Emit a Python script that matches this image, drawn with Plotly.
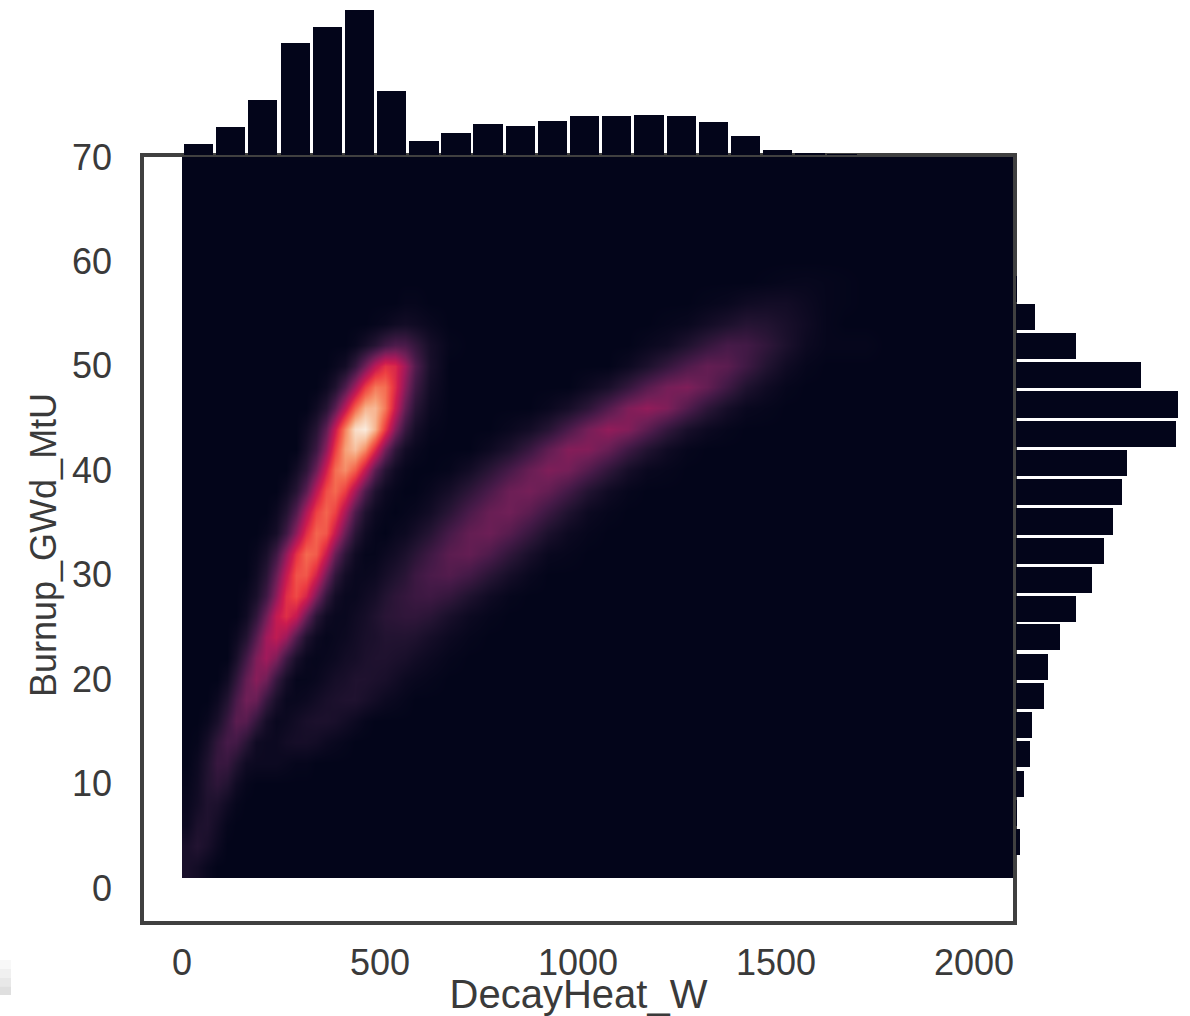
import plotly.graph_objects as go

W, H = 1190, 1016
INK = "#03051a"
FRAME = "#404040"
TEXT = "#3a3a3a"
FONT = "Liberation Sans"

# Top marginal histogram (DecayHeat_W)
top_bins = [42, 123, 204, 286, 367, 448, 529, 611, 692, 773, 854, 936, 1017, 1098,
            1179, 1261, 1342, 1423, 1504, 1586, 1667]
top_counts = [11, 28, 55, 112, 128, 145, 64, 14, 22, 31, 29, 34, 39, 39, 40, 39, 33, 19, 5, 1.5, 0.5]

# Right marginal histogram (Burnup_GWd_MtU)
right_bins = [4.4, 7.2, 10.0, 12.8, 15.6, 18.4, 21.2, 24.0, 26.7, 29.5, 32.3, 35.1,
              37.9, 40.7, 43.5, 46.3, 49.1, 51.9, 54.7, 57.4]
right_counts = [4, 1, 8, 14, 16, 28, 32, 44, 60, 76, 88, 97, 106, 111, 160, 162, 125, 60, 19, 1]

# Density grid, in percent of the peak.
density_x = [12.5, 37.5, 62.5, 87.5, 112.5, 137.5, 162.5, 187.5, 212.5, 237.5, 262.5, 287.5,
             312.5, 337.5, 362.5, 387.5, 412.5, 437.5, 462.5, 487.5, 512.5, 537.5, 562.5, 587.5,
             625, 675, 725, 775, 825, 875, 925, 975, 1025, 1075, 1125, 1175, 1225, 1275, 1325,
             1375, 1425, 1475, 1525, 1575, 1625, 1675, 1725, 1775, 1825, 1875, 1925, 1975, 2025, 2075]
density_y = [2, 4, 6, 8, 10, 12, 14, 16, 18, 20, 22, 24, 26, 28, 30, 32, 34, 36, 38, 40, 42, 44,
             46, 48, 50, 52, 54, 56, 58, 60, 62, 64, 66, 68, 70]
# One row per burnup level: (index of first listed column, values)
density_rows = [
    (0, [7, 5, 2]),
    (0, [7, 10, 7, 3]),
    (0, [3, 8, 9, 5, 1]),
    (0, [2, 5, 9, 8, 4, 1]),
    (0, [1, 4, 10, 13, 10, 4, 1]),
    (1, [3, 9, 16, 16, 10, 4, 3, 3, 3, 2, 1, 1]),
    (1, [1, 6, 14, 20, 19, 12, 4, 3, 3, 5, 6, 6, 5, 3, 2, 1]),
    (2, [2, 7, 16, 25, 24, 15, 6, 2, 3, 5, 7, 8, 8, 7, 5, 3, 1]),
    (3, [3, 10, 21, 30, 28, 16, 7, 2, 2, 3, 5, 7, 8, 9, 9, 7, 5, 3, 2, 1]),
    (4, [4, 14, 27, 35, 30, 16, 6, 1, 1, 2, 4, 6, 7, 9, 9, 8, 7, 5, 3, 2, 1]),
    (5, [7, 19, 33, 40, 33, 18, 7, 2, 1, 2, 3, 5, 6, 8, 9, 9, 8, 7, 5, 3, 1]),
    (5, [3, 10, 24, 40, 47, 39, 23, 9, 3, 1, 2, 3, 5, 7, 8, 10, 10, 10, 9, 6, 3, 1]),
    (6, [4, 14, 30, 48, 56, 48, 29, 12, 4, 2, 2, 4, 6, 9, 12, 13, 14, 14, 12, 7, 3, 1]),
    (6, [2, 7, 18, 36, 56, 63, 53, 33, 15, 5, 2, 2, 4, 6, 10, 13, 15, 17, 18, 15, 9, 4, 1]),
    (7, [4, 12, 28, 48, 65, 66, 52, 31, 14, 5, 2, 2, 3, 6, 9, 12, 17, 21, 23, 19, 12, 6, 2]),
    (7, [2, 7, 18, 37, 57, 70, 67, 49, 28, 13, 4, 1, 1, 3, 5, 8, 12, 18, 25, 27, 22, 14, 7, 2, 1]),
    (8, [2, 6, 18, 36, 56, 69, 66, 48, 28, 12, 4, 1, 0, 2, 3, 6, 11, 20, 27, 29, 24, 16, 8, 3, 1]),
    (9, [3, 10, 23, 43, 61, 69, 61, 42, 22, 9, 3, 1, 0, 1, 2, 5, 12, 21, 28, 30, 25, 17, 9, 3, 1]),
    (10, [4, 11, 25, 46, 64, 70, 60, 41, 22, 9, 3, 1, 0, 0, 2, 6, 13, 21, 29, 31, 27, 19, 10, 4, 1]),
    (11, [5, 13, 29, 51, 71, 77, 67, 47, 25, 11, 4, 1, 0, 0, 1, 5, 12, 20, 28, 33, 31, 23, 14, 6, 2, 1]),
    (12, [7, 17, 36, 60, 81, 88, 77, 55, 31, 14, 5, 2, 0, 0, 0, 3, 8, 16, 26, 34, 34, 28, 18, 10, 4, 1]),
    (12, [4, 11, 26, 49, 75, 96, 100, 85, 59, 34, 16, 6, 1, 0, 0, 0, 2, 5, 11, 21, 31, 37, 34, 25, 15, 7, 3, 1]),
    (13, [4, 11, 25, 46, 69, 85, 86, 73, 49, 27, 12, 3, 0, 0, 0, 0, 0, 2, 6, 13, 23, 33, 37, 33, 23, 13, 6, 2, 1]),
    (14, [3, 9, 22, 40, 60, 73, 71, 55, 35, 18, 5, 0, 0, 0, 0, 0, 0, 0, 3, 7, 15, 24, 31, 33, 27, 18, 9, 4, 1]),
    (15, [2, 5, 15, 30, 46, 57, 54, 40, 23, 7, 0, 0, 0, 0, 0, 0, 0, 0, 0, 3, 8, 15, 22, 27, 25, 18, 10, 4, 1]),
    (17, [2, 6, 11, 18, 22, 21, 15, 6, 1, 0, 0, 0, 0, 0, 0, 0, 0, 0, 2, 4, 9, 15, 20, 19, 14, 8, 3, 1, 1, 1]),
    (19, [1, 2, 4, 5, 4, 2, 0, 0, 0, 0, 0, 0, 0, 0, 0, 0, 0, 1, 2, 5, 8, 11, 10, 7, 4, 1]),
    (22, [1, 1, 0, 0, 0, 0, 0, 0, 0, 0, 0, 0, 0, 0, 0, 0, 1, 2, 4, 5, 5, 3, 1, 0.5]),
    (41, [0.5, 1.2, 1.5, 1, 0.5]),
]

x_tick_values = [0, 500, 1000, 1500, 2000]
y_tick_values = [0, 10, 20, 30, 40, 50, 60, 70]

# seaborn "rocket"
rocket = [
    [0.0, "#03051a"], [0.1, "#221331"], [0.2, "#461a48"], [0.3, "#701f57"],
    [0.4, "#a11a5b"], [0.5, "#cb1b4f"], [0.6, "#ec3c42"], [0.7, "#f4694f"],
    [0.8, "#f69c73"], [0.9, "#f7c9aa"], [1.0, "#faebdd"],
]

n_cols = len(density_x)
z = []
for start, values in density_rows:
    z.append([0] * start + values + [0] * (n_cols - start - len(values)))
while len(z) < len(density_y):
    z.append([0] * n_cols)

fig = go.Figure()
fig.add_trace(go.Heatmap(
    z=z, x=density_x, y=density_y, zmin=0, zmax=100, zsmooth="best",
    colorscale=rocket, showscale=False, hoverinfo="skip",
    xaxis="x", yaxis="y",
))
fig.add_trace(go.Bar(
    x=top_bins, y=top_counts, width=74, marker=dict(color=INK, line=dict(width=0)),
    xaxis="x2", yaxis="y2", showlegend=False,
))
fig.add_trace(go.Bar(
    x=right_counts, y=right_bins, orientation="h", width=2.5,
    marker=dict(color=INK, line=dict(width=0)),
    xaxis="x3", yaxis="y3", showlegend=False,
))

# pixel scale of the reference: 0 W at 182 px, 0.396 px per W; 0 GWd at 888 px, 10.44 px per GWd
x_range = [(144 - 182) / 0.396, (1013 - 182) / 0.396]
y_range = [(888 - 921) / 10.44, 70]
x_dom = [144 / W, 1013 / W]
y_dom = [1 - 921 / H, 1 - 157 / H]

fig.update_layout(
    width=W, height=H, autosize=False,
    margin=dict(l=0, r=0, t=0, b=0, pad=0),
    paper_bgcolor="white", plot_bgcolor="white",
    showlegend=False, bargap=0,
    xaxis=dict(
        domain=x_dom, range=x_range, tickmode="array", tickvals=x_tick_values,
        ticks="outside", ticklen=7, tickcolor="rgba(0,0,0,0)",
        tickfont=dict(family=FONT, size=36, color=TEXT),
        showgrid=False, zeroline=False, showline=True, linecolor=FRAME, linewidth=3.5, mirror=True,
        title=dict(text="DecayHeat_W", font=dict(family=FONT, size=40, color=TEXT), standoff=25),
        automargin=False,
    ),
    yaxis=dict(
        domain=y_dom, range=y_range, tickmode="array", tickvals=y_tick_values,
        ticks="outside", ticklen=21, tickcolor="rgba(0,0,0,0)",
        tickfont=dict(family=FONT, size=36, color=TEXT),
        showgrid=False, zeroline=False, showline=True, linecolor=FRAME, linewidth=3.5, mirror=True,
        automargin=False,
    ),
    xaxis2=dict(domain=x_dom, range=x_range, anchor="y2", visible=False),
    yaxis2=dict(domain=[1 - 155 / H, 1], range=[0, 155], anchor="x2", visible=False),
    xaxis3=dict(domain=[1016 / W, 1], range=[0, 174], anchor="y3", visible=False),
    yaxis3=dict(domain=y_dom, range=y_range, anchor="x3", visible=False),
)

fig.add_annotation(text="Burnup_GWd_MtU", textangle=-90, showarrow=False,
                   xref="paper", yref="paper", x=43 / W, y=1 - 545 / H,
                   xanchor="center", yanchor="middle",
                   font=dict(family=FONT, size=36, color=TEXT))

# Faint grey smudge in the lower-left corner of the screenshot
for k, shade in enumerate(["#f8f8f8", "#f0f0f0", "#e8e8e8", "#dfdfdf"]):
    fig.add_shape(type="rect", xref="paper", yref="paper", line_width=0, fillcolor=shade,
                  x0=0, x1=11 / W, y0=1 - (960 + 35 * (k + 1) / 4) / H, y1=1 - (960 + 35 * k / 4) / H)

fig.write_html("out.html", config={"displayModeBar": False},
               post_script="document.body.style.margin='0';")
